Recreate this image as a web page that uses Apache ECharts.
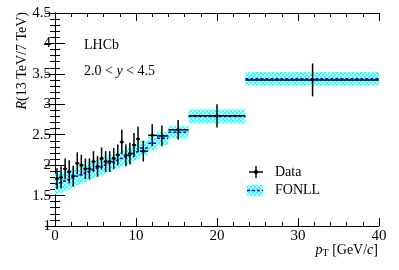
<!DOCTYPE html>
<html><head><meta charset="utf-8">
<script src="https://cdn.jsdelivr.net/npm/echarts@6/dist/echarts.min.js"></script>
<style>html,body{margin:0;padding:0;background:#fff}#c{width:399px;height:270px}</style>
</head><body><div id="c"></div>
<script>
// Data bins (pT) and measured ratio
const binLo = [0,0.5,1,1.5,2,2.5,3,3.5,4,4.5,5,5.5,6,6.5,7,7.5,8,8.5,9,9.5,10,10.5,11.5,12.6,14,16.5,23.5];
const binHi = [0.5,1,1.5,2,2.5,3,3.5,4,4.5,5,5.5,6,6.5,7,7.5,8,8.5,9,9.5,10,10.5,11.5,12.6,14,16.5,23.5,40];
const dataX = [0.25,0.75,1.25,1.75,2.25,2.75,3.25,3.75,4.25,4.75,5.25,5.75,6.25,6.75,7.25,7.75,8.25,8.75,9.25,9.75,10.25,10.9,12.0,13.2,15.2,20.0,31.8];
const dataY = [1.78,1.80,1.94,1.89,1.82,2.03,2.00,1.94,1.94,2.06,1.98,2.11,2.06,2.06,2.11,2.17,2.38,2.16,2.19,2.33,2.43,2.23,2.49,2.48,2.58,2.81,3.40];
const dataErr = [0.17,0.18,0.17,0.19,0.17,0.18,0.17,0.17,0.17,0.17,0.17,0.18,0.17,0.17,0.17,0.17,0.20,0.18,0.18,0.20,0.20,0.17,0.18,0.17,0.16,0.19,0.27];
// FONLL prediction per bin
const fonllC = [1.69,1.71,1.74,1.76,1.79,1.82,1.84,1.87,1.89,1.92,1.95,1.97,2.00,2.03,2.05,2.08,2.11,2.13,2.16,2.19,2.22,2.28,2.36,2.44,2.54,2.80,3.42];
const fonllH = [0.17,0.17,0.16,0.16,0.16,0.15,0.15,0.15,0.15,0.14,0.14,0.14,0.14,0.14,0.13,0.13,0.13,0.13,0.13,0.12,0.12,0.12,0.11,0.11,0.10,0.115,0.11];
const xTicks = [0,10,20,30,40];
const yTicks = [1,1.5,2,2.5,3,3.5,4,4.5];

function makePattern(){
  const cv = document.createElement('canvas'); cv.width = 4; cv.height = 4;
  const g = cv.getContext('2d');
  g.fillStyle = '#ffffff'; g.fillRect(0,0,4,4);
  g.fillStyle = '#33ffff';
  g.fillRect(0,0,2,2); g.fillRect(2,2,2,2);
  g.fillStyle = '#bbffff';
  g.fillRect(2,0,2,2); g.fillRect(0,2,2,2);
  return cv;
}
const pat = {image: makePattern(), repeat: 'repeat'};
const FONT = '"Liberation Serif","DejaVu Serif",serif';

const bandData = binLo.map((l,i)=>[l, binHi[i], fonllC[i], fonllH[i]]);
const ptData = dataX.map((x,i)=>[x, dataY[i], binLo[i], binHi[i], dataErr[i]]);

const chart = echarts.init(document.getElementById('c'), null, {renderer:'canvas'});
const axisCommon = {
  axisLine:{show:true, lineStyle:{color:'#000', width:1}},
  splitLine:{show:false},
};
chart.setOption({
  animation:false,
  backgroundColor:'#fff',
  grid:{left:55, right:20, top:13, bottom:44},
  xAxis:[
    Object.assign({type:'value', min:xTicks[0], max:xTicks[xTicks.length-1], interval:10, position:'bottom',
      axisTick:{inside:true, length:8, lineStyle:{color:'#000'}},
      minorTick:{show:true, splitNumber:5, length:4, lineStyle:{color:'#000'}},
      axisLabel:{color:'#000', fontFamily:FONT, fontSize:15, margin:3}}, axisCommon),
    Object.assign({type:'value', min:0, max:40, interval:10, position:'top',
      axisTick:{inside:true, length:8, lineStyle:{color:'#000'}},
      minorTick:{show:true, splitNumber:5, length:4, lineStyle:{color:'#000'}},
      axisLabel:{show:false}}, axisCommon)
  ],
  yAxis:[
    Object.assign({type:'value', min:yTicks[0], max:yTicks[yTicks.length-1], interval:0.5, position:'left',
      axisTick:{inside:true, length:10, lineStyle:{color:'#000'}},
      minorTick:{show:true, splitNumber:5, length:5, lineStyle:{color:'#000'}},
      axisLabel:{color:'#000', fontFamily:FONT, fontSize:15, margin:4}}, axisCommon),
    Object.assign({type:'value', min:1, max:4.5, interval:0.5, position:'right',
      axisTick:{inside:true, length:10, lineStyle:{color:'#000'}},
      minorTick:{show:true, splitNumber:5, length:5, lineStyle:{color:'#000'}},
      axisLabel:{show:false}}, axisCommon)
  ],
  series:[
    {type:'custom', name:'FONLL', data:bandData, clip:true, z:2,
     encode:{x:[0,1], y:2},
     renderItem:function(params, api){
       const lo = api.value(0), hi = api.value(1), c = api.value(2), h = api.value(3);
       const p1 = api.coord([lo, c+h]), p2 = api.coord([hi, c-h]);
       const pc1 = api.coord([lo, c]), pc2 = api.coord([hi, c]);
       return {type:'group', children:[
         {type:'rect', shape:{x:p1[0], y:p1[1], width:p2[0]-p1[0], height:p2[1]-p1[1]}, style:{fill:pat}},
         {type:'line', shape:{x1:pc1[0], y1:pc1[1], x2:pc2[0], y2:pc2[1]}, style:{stroke:'#0000ff', lineWidth:1.5, lineDash:[3,2]}}
       ]};
     }},
    {type:'custom', name:'Data', data:ptData, clip:true, z:3,
     encode:{x:0, y:1},
     renderItem:function(params, api){
       const x = api.value(0), y = api.value(1), lo = api.value(2), hi = api.value(3), e = api.value(4);
       const a = api.coord([lo, y]), b = api.coord([hi, y]);
       const t = api.coord([x, y+e]), u = api.coord([x, y-e]);
       const m = api.coord([x, y]);
       const st = {stroke:'#000', lineWidth:1.5};
       return {type:'group', children:[
         {type:'line', shape:{x1:a[0], y1:a[1], x2:b[0], y2:b[1]}, style:st},
         {type:'line', shape:{x1:t[0], y1:t[1], x2:u[0], y2:u[1]}, style:st},
         {type:'circle', shape:{cx:m[0], cy:m[1], r:1.6}, style:{fill:'#000'}}
       ]};
     }}
  ],
  graphic:[
    {type:'text', left:84, top:38, style:{text:'LHCb', font:'14px '+FONT, fill:'#000'}},
    {type:'text', left:84, top:64, style:{
      text:'2.0 < {i|y} < 4.5', font:'14px '+FONT, fill:'#000',
      rich:{i:{fontStyle:'italic', fontFamily:FONT, fontSize:14}}}},
    {type:'text', x:22, y:12, rotation:Math.PI/2, style:{
      text:'{i|R}(13 TeV/7 TeV)', font:'14px '+FONT, fill:'#000', align:'right', verticalAlign:'middle',
      rich:{i:{fontStyle:'italic', fontFamily:FONT, fontSize:14}}}},
    {type:'text', x:378, y:250, style:{
      text:'{i|p}{s|T} [GeV/{i|c}]', font:'14px '+FONT, fill:'#000', align:'right', verticalAlign:'middle',
      rich:{i:{fontStyle:'italic', fontFamily:FONT, fontSize:14}, s:{fontFamily:FONT, fontSize:10, padding:[6,0,0,0]}}}},
    // legend: Data
    {type:'line', shape:{x1:249, y1:172, x2:263, y2:172}, style:{stroke:'#000', lineWidth:1.5}},
    {type:'line', shape:{x1:256, y1:166, x2:256, y2:178}, style:{stroke:'#000', lineWidth:1.5}},
    {type:'circle', shape:{cx:256, cy:172, r:2}, style:{fill:'#000'}},
    {type:'text', x:275, y:172, style:{text:'Data', font:'14px '+FONT, fill:'#000', verticalAlign:'middle'}},
    // legend: FONLL
    {type:'rect', shape:{x:247, y:185, width:16, height:11}, style:{fill:pat}},
    {type:'line', shape:{x1:247, y1:190.5, x2:263, y2:190.5}, style:{stroke:'#0000ff', lineWidth:1.5, lineDash:[3,2]}},
    {type:'text', x:275, y:190.5, style:{text:'FONLL', font:'14px '+FONT, fill:'#000', verticalAlign:'middle'}}
  ]
});
</script>
</body></html>
